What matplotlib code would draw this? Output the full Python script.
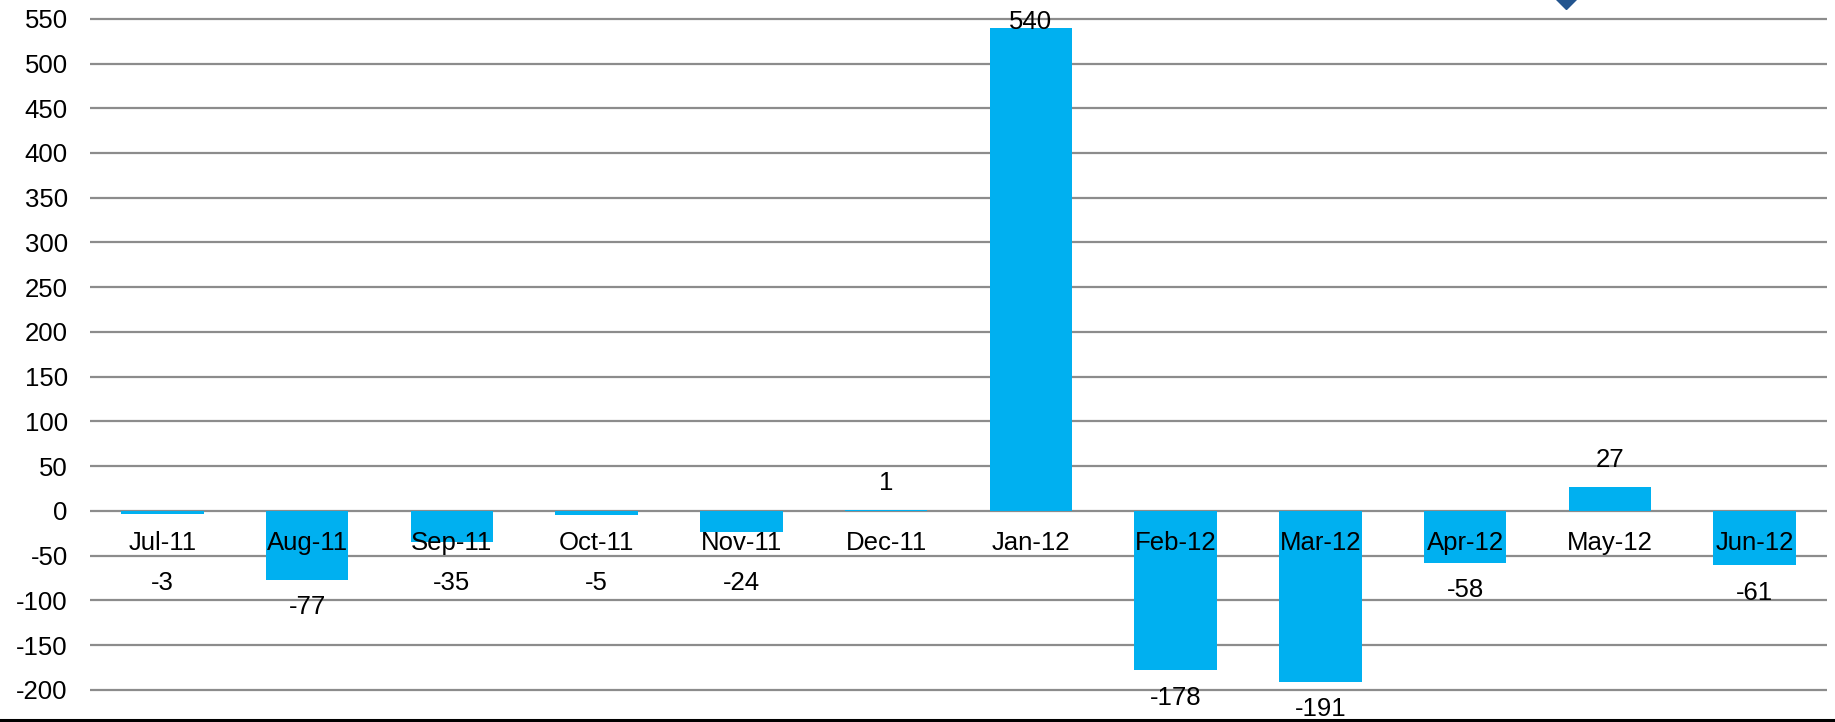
import matplotlib
matplotlib.use("Agg")
from matplotlib import pyplot as plt
from matplotlib.lines import Line2D

# data
months = ["Jul-11", "Aug-11", "Sep-11", "Oct-11", "Nov-11", "Dec-11",
          "Jan-12", "Feb-12", "Mar-12", "Apr-12", "May-12", "Jun-12"]
values = [-3, -77, -35, -5, -24, 1, 540, -178, -191, -58, 27, -61]
yticks = list(range(-200, 551, 50))

plt.rcParams['font.family'] = ['Liberation Sans', 'DejaVu Sans']

fig = plt.figure(figsize=(18.35, 7.22), dpi=100)
ax = fig.add_axes([90 / 1835, 0, (1827 - 90) / 1835, 1])

x = list(range(len(months)))
ax.bar(x, values, width=0.57, color="#00B0F0", zorder=2)

ax.set_xlim(-0.5, len(months) - 0.5)
ax.set_ylim(-236, 571)
ax.set_yticks(yticks)
ax.set_yticklabels([str(t) for t in yticks])
ax.tick_params(axis="y", length=0, pad=16, labelsize=18.5)
ax.set_xticks([])
for s in ax.spines.values():
    s.set_visible(False)
for t in yticks:
    ax.axhline(t, color="#8c8c8c", lw=1.6, zorder=1)

# category labels sit just under the zero line
for i, m in enumerate(months):
    ax.annotate(m, (i, 0), xytext=(0, -23), textcoords="offset points",
                ha="center", va="center", fontsize=18.5, zorder=3)

# value labels
for i, v in enumerate(values):
    if v >= 0:
        ly = min(v + 30, 546)
    else:
        ly = min(v, -50) - 31
    ax.text(i, ly, str(v), ha="center", va="center", fontsize=18.5, zorder=3)

# partial dark marker peeking in at the top edge
ax.plot([9.7], [578], marker="D", markersize=15, color="#23558f",
        clip_on=False, zorder=4)

# black rule along the bottom edge
fig.add_artist(Line2D([0, 1], [2 / 722, 2 / 722], color="black", lw=2.2,
                      transform=fig.transFigure))

fig.savefig("out.png", dpi=100)
